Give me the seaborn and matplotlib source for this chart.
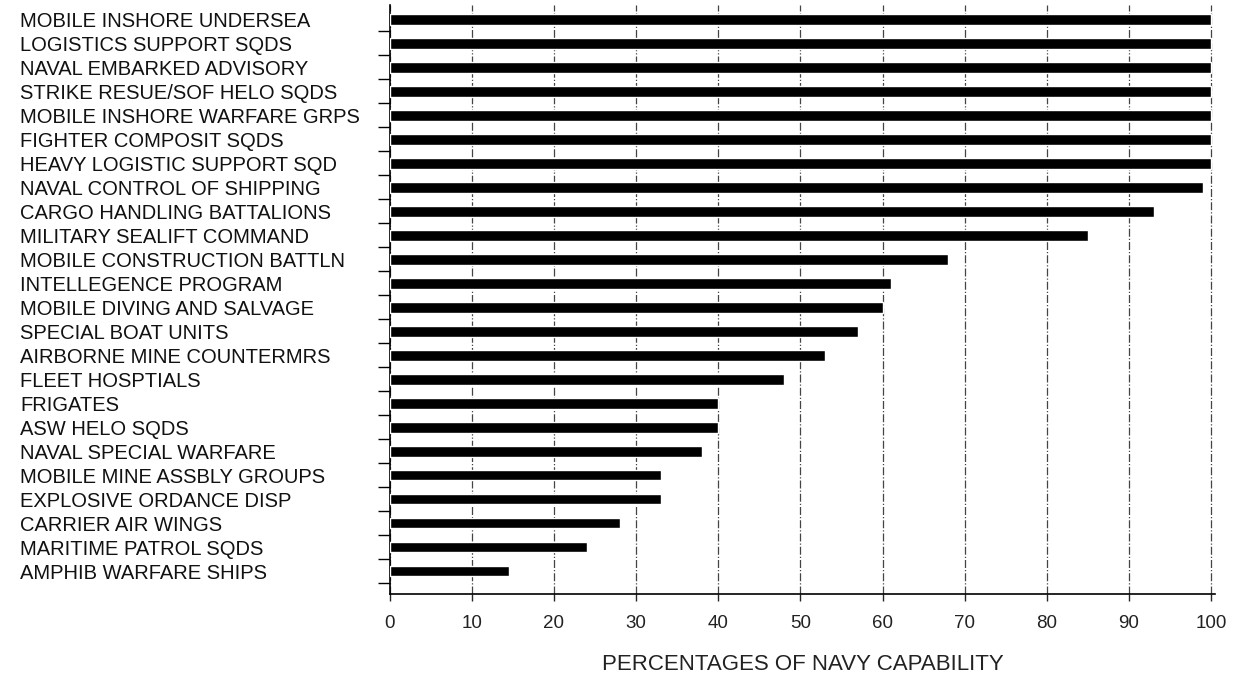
import matplotlib
matplotlib.use("Agg")
import matplotlib.pyplot as plt
from matplotlib.ticker import FixedLocator
import seaborn as sns
import pandas as pd
import numpy as np

# chart data (top to bottom)
units = [
    "MOBILE INSHORE UNDERSEA",
    "LOGISTICS SUPPORT SQDS",
    "NAVAL EMBARKED ADVISORY",
    "STRIKE RESUE/SOF HELO SQDS",
    "MOBILE INSHORE WARFARE GRPS",
    "FIGHTER COMPOSIT SQDS",
    "HEAVY LOGISTIC SUPPORT SQD",
    "NAVAL CONTROL OF SHIPPING",
    "CARGO HANDLING BATTALIONS",
    "MILITARY SEALIFT COMMAND",
    "MOBILE CONSTRUCTION BATTLN",
    "INTELLEGENCE PROGRAM",
    "MOBILE DIVING AND SALVAGE",
    "SPECIAL BOAT UNITS",
    "AIRBORNE MINE COUNTERMRS",
    "FLEET HOSPTIALS",
    "FRIGATES",
    "ASW HELO SQDS",
    "NAVAL SPECIAL WARFARE",
    "MOBILE MINE ASSBLY GROUPS",
    "EXPLOSIVE ORDANCE DISP",
    "CARRIER AIR WINGS",
    "MARITIME PATROL SQDS",
    "AMPHIB WARFARE SHIPS",
]
capability = [100, 100, 100, 100, 100, 100, 100, 99, 93, 85, 68, 61, 60, 57,
              53, 48, 40, 40, 38, 33, 33, 28, 24, 14.5]
x_ticks = [0, 10, 20, 30, 40, 50, 60, 70, 80, 90, 100]

df = pd.DataFrame({"unit": units, "pct": capability})

sns.set_style("white")
plt.rcParams["font.family"] = ["Liberation Sans", "DejaVu Sans"]

fig = plt.figure(figsize=(12.49, 6.79), dpi=100)
ax = fig.add_axes([0.312, 0.125, 0.661, 0.868])

sns.barplot(data=df, x="pct", y="unit", orient="h", color="black",
            width=0.45, saturation=1, ax=ax, zorder=3)

ax.set_xlim(0, 100.5)
ax.set_ylim(len(units) - 0.04, -0.6)
ax.set_xticks(x_ticks)
ax.set_xticklabels([str(t) for t in x_ticks], fontsize=13.5, color="#222222")

# grid: dash-dot vertical lines
ax.xaxis.grid(True, linestyle="-.", color="#444444", linewidth=0.9, zorder=0)
ax.yaxis.grid(False)

# category labels left aligned far to the left
ax.set_yticks(range(len(units)))
ax.set_yticklabels(units, fontsize=14.5, ha="left", color="#111111")
ax.tick_params(axis="y", which="major", left=False, length=0, pad=266)
ax.yaxis.set_minor_locator(FixedLocator(np.arange(len(units)) + 0.5))
ax.tick_params(axis="y", which="minor", left=True, length=9, width=1,
               color="black", direction="out")
ax.tick_params(axis="x", bottom=True, length=5, width=1, direction="out",
               pad=10)

ax.set_xlabel("PERCENTAGES OF NAVY CAPABILITY", fontsize=16, labelpad=16,
              color="#222222")
ax.set_ylabel("")

for side in ["top", "right"]:
    ax.spines[side].set_visible(False)
for side in ["left", "bottom"]:
    ax.spines[side].set_color("black")
    ax.spines[side].set_linewidth(1.2)

fig.savefig("out.png", dpi=100)
